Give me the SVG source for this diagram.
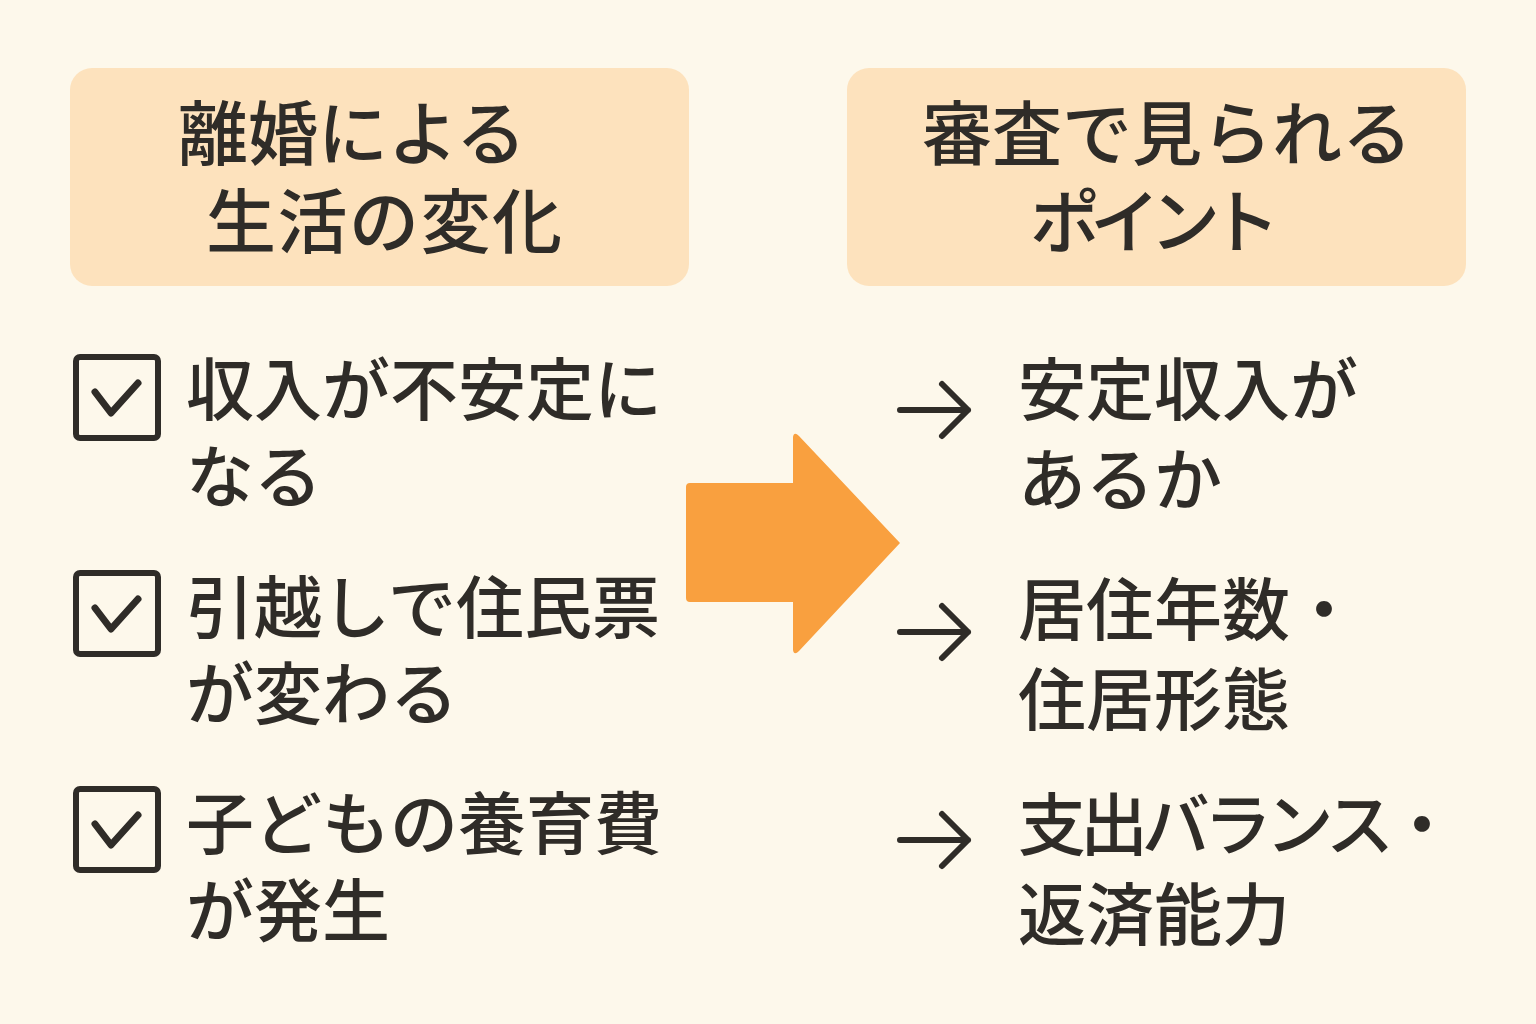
<svg xmlns="http://www.w3.org/2000/svg" width="1536" height="1024" viewBox="0 0 1536 1024">
<defs>
<style>
.t{font-family:"Noto Sans CJK JP","Noto Sans CJK SC",sans-serif;font-weight:500;fill:#2f2c28;font-size:68px}
.h{font-size:70px}
.hdr{fill:#fde2bd}
.cb{fill:none;stroke:#2f2c28;stroke-width:6}
.ck{fill:none;stroke:#2f2c28;stroke-width:7;stroke-linecap:round;stroke-linejoin:round}
.ar{fill:none;stroke:#2f2c28;stroke-width:6;stroke-linecap:round;stroke-linejoin:round}
</style>
</defs>
<rect width="1536" height="1024" fill="#fdf8eb"/>
<g id="header-left">
<rect class="hdr" x="70" y="68" width="619" height="218" rx="22"/>
<text class="t h" x="178" y="160">離婚による</text>
<text class="t h" x="206" y="248" textLength="356">生活の変化</text>
</g>
<g id="header-right">
<rect class="hdr" x="847" y="68" width="619" height="218" rx="22"/>
<text class="t h" x="922" y="160">審査で見られる</text>
<text class="t h" x="1030" y="248" textLength="250">ポイント</text>
</g>
<g id="item-left-1">
<rect class="cb" x="76" y="357" width="82" height="81" rx="4"/>
<path class="ck" d="M95 392 L111 413 L138 383"/>
<text class="t" x="186" y="415">収入が不安定に</text>
<text class="t" x="186" y="502">なる</text>
</g>
<g id="item-left-2">
<rect class="cb" x="76" y="573" width="82" height="81" rx="4"/>
<path class="ck" d="M95 608 L111 629 L138 599"/>
<text class="t" x="186" y="633">引越しで住民票</text>
<text class="t" x="186" y="719">が変わる</text>
</g>
<g id="item-left-3">
<rect class="cb" x="76" y="789" width="82" height="81" rx="4"/>
<path class="ck" d="M95 824 L111 845 L138 815"/>
<text class="t" x="186" y="849">子どもの養育費</text>
<text class="t" x="186" y="936">が発生</text>
</g>
<g id="big-arrow">
<path d="M690 483 L793 483 L793 437 Q794 431 799 436 L900 543 L799 651 Q794 656 793 650 L793 602 L690 602 Q686 602 686 598 L686 487 Q686 483 690 483 Z" fill="#f9a03f"/>
</g>
<g id="connectors">
<path class="ar" d="M900 410 H968 M942 384 L968 410 L942 436"/>
<path class="ar" d="M900 632 H968 M942 606 L968 632 L942 658"/>
<path class="ar" d="M900 840 H968 M942 814 L968 840 L942 866"/>
</g>
<g id="item-right-1">
<text class="t" x="1018" y="415">安定収入が</text>
<text class="t" x="1018" y="505">あるか</text>
</g>
<g id="item-right-2">
<text class="t" x="1018" y="635">居住年数・</text>
<text class="t" x="1018" y="725">住居形態</text>
</g>
<g id="item-right-3">
<text class="t" x="1018" y="850" textLength="438">支出バランス・</text>
<text class="t" x="1018" y="940">返済能力</text>
</g>
</svg>
